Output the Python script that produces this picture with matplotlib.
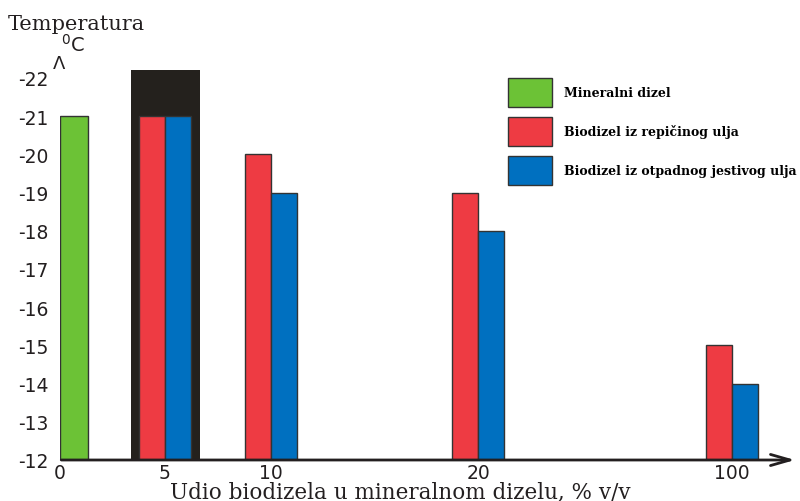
import matplotlib.pyplot as plt
from matplotlib.patches import Patch

# data (temperatures in degC)
shares = ['0', '5', '10', '20', '100']
mineral = [-21]                      # 0 % biodiesel
rapeseed = [-21, -20, -19, -15]      # 5, 10, 20, 100 %
waste_oil = [-21, -19, -18, -14]     # 5, 10, 20, 100 %
highlight_top = -22.2                # dark box behind the 5 % pair
y_ticks = [-12, -13, -14, -15, -16, -17, -18, -19, -20, -21, -22]

labels = ['Mineralni dizel', 'Biodizel iz repičinog ulja',
          'Biodizel iz otpadnog jestivog ulja']
c_green, c_red, c_blue, c_dark = '#6cc236', '#ee3b43', '#0070c0', '#24211d'

# layout: x positions of the groups on the axis (in pixel-like units)
tick_pos = [0, 105, 211, 418, 672]
green_pos = 14
group_pos = tick_pos[1:]
bw = 26
base = 12

fig = plt.figure(figsize=(8, 5.02), dpi=100)
ax = fig.add_axes([60 / 800, 41 / 502, 740 / 800, 421 / 502])

# dark highlight box
ax.bar(group_pos[0] + 0.5, -highlight_top - base, bottom=base, width=69,
       color=c_dark, edgecolor='none', zorder=1)

ax.bar(green_pos, [-v - base for v in mineral], bottom=base, width=28,
       color=c_green, edgecolor='#333333', linewidth=1, zorder=2)
ax.bar([p - bw / 2 for p in group_pos], [-v - base for v in rapeseed], bottom=base,
       width=bw, color=c_red, edgecolor='#333333', linewidth=1, zorder=2)
ax.bar([p + bw / 2 for p in group_pos], [-v - base for v in waste_oil], bottom=base,
       width=bw, color=c_blue, edgecolor='#333333', linewidth=1, zorder=2)

ax.set_xlim(0, 740)
ax.set_ylim(base, base + 421 / 38.2)
for s in ax.spines.values():
    s.set_visible(False)

ax.set_yticks([-v for v in y_ticks])
ax.set_yticklabels([str(v) for v in y_ticks], fontsize=13.5, family='DejaVu Sans')
ax.set_xticks(tick_pos)
ax.set_xticklabels(shares, fontsize=13.5, family='DejaVu Sans')
ax.tick_params(axis='y', length=0, pad=8, colors='#231f20')
ax.tick_params(axis='x', length=0, pad=2, colors='#231f20')

# x axis with open arrow
ax.annotate('', xy=(0.997, 0), xytext=(-0.002, 0), xycoords='axes fraction',
            arrowprops=dict(arrowstyle='->,head_length=1.4,head_width=0.4',
                            lw=2, color='#231f20'), annotation_clip=False, zorder=3)

fig.text(8 / 800, 1 - 25 / 502, 'Temperatura', fontsize=15, family='DejaVu Serif',
         va='center', ha='left', color='#231f20')
fig.text(61 / 800, 1 - 45 / 502, r'$^{0}$C', fontsize=14, family='DejaVu Sans',
         va='center', ha='left', color='#231f20')
fig.text(59 / 800, 1 - 64 / 502, 'Λ', fontsize=13, family='DejaVu Sans',
         va='center', ha='center', color='#231f20')
fig.text(400 / 800, 1 - 492 / 502, 'Udio biodizela u mineralnom dizelu, % v/v',
         fontsize=15.5, family='DejaVu Serif', va='center', ha='center', color='#231f20')

handles = [Patch(facecolor=c, edgecolor='#333333', linewidth=1)
           for c in (c_green, c_red, c_blue)]
ax.legend(handles, labels, loc='upper left', bbox_to_anchor=(508 / 800, 1 - 79 / 502),
          bbox_transform=fig.transFigure, frameon=False, borderpad=0, borderaxespad=0,
          handlelength=3.5, handleheight=3.2, labelspacing=0.8, handletextpad=1.0,
          prop={'family': 'DejaVu Serif', 'weight': 'bold', 'size': 9})

fig.savefig('out.png', dpi=100)
